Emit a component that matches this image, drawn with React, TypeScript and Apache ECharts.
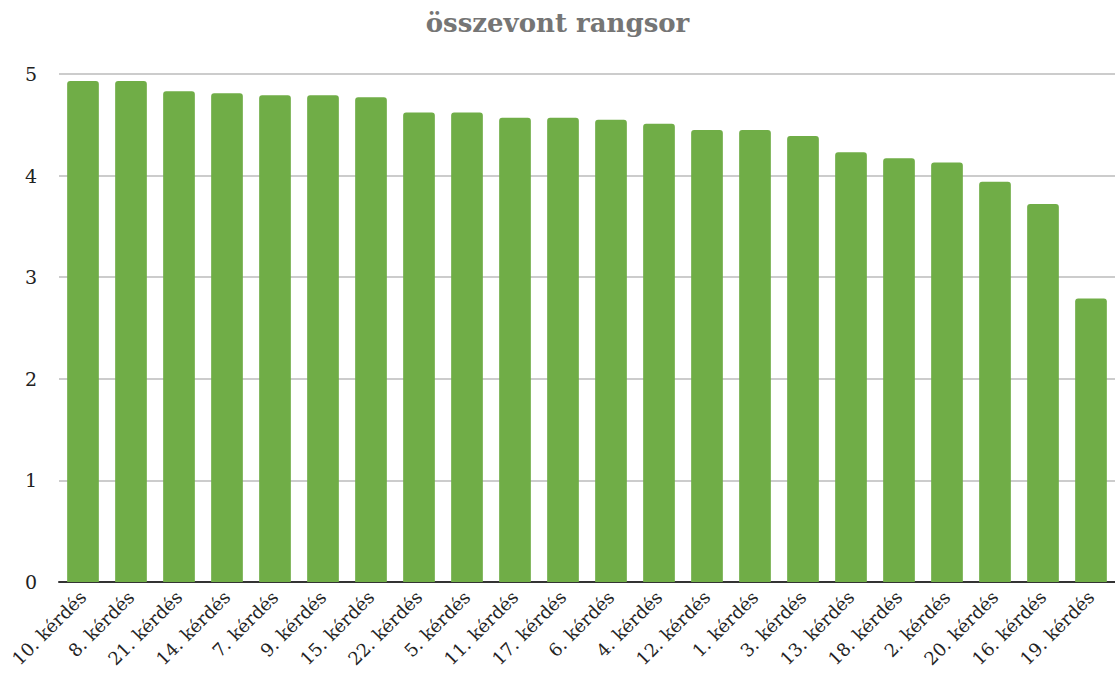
import React, { useEffect, useRef } from "react";
import * as echarts from "echarts";

const categories = [
  "10. kérdés", "8. kérdés", "21. kérdés", "14. kérdés", "7. kérdés", "9. kérdés",
  "15. kérdés", "22. kérdés", "5. kérdés", "11. kérdés", "17. kérdés", "6. kérdés",
  "4. kérdés", "12. kérdés", "1. kérdés", "3. kérdés", "13. kérdés", "18. kérdés",
  "2. kérdés", "20. kérdés", "16. kérdés", "19. kérdés",
];
const values = [
  4.93, 4.93, 4.83, 4.81, 4.79, 4.79, 4.77, 4.62, 4.62, 4.57, 4.57, 4.55,
  4.51, 4.45, 4.45, 4.39, 4.23, 4.17, 4.13, 3.94, 3.72, 2.79,
];
const titleText = "összevont rangsor";

export default function App() {
  const ref = useRef<HTMLDivElement>(null);
  useEffect(() => {
    if (!ref.current) return;
    const chart = echarts.init(ref.current, undefined, { renderer: "svg" });
    chart.setOption({
      animation: false,
      backgroundColor: "#ffffff",
      title: {
        text: titleText,
        left: "center",
        top: 5,
        textStyle: {
          fontFamily: "'DejaVu Serif', serif",
          fontWeight: "bold",
          fontSize: 26,
          color: "#757575",
        },
      },
      grid: { left: 59, right: 0, top: 74, bottom: 102, containLabel: false },
      xAxis: {
        type: "category",
        data: categories,
        axisTick: { show: false },
        axisLine: { lineStyle: { color: "#333333", width: 2 } },
        axisLabel: {
          rotate: 45,
          interval: 0,
          margin: 12,
          padding: [0, 0, 0, 0],
          fontFamily: "'DejaVu Serif', serif",
          fontSize: 18,
          color: "#222222",
        },
      },
      yAxis: {
        type: "value",
        min: 0,
        max: 5,
        interval: 1,
        axisLine: { show: false },
        axisTick: { show: false },
        splitLine: { lineStyle: { color: "#cccccc", width: 2 } },
        axisLabel: {
          margin: 22,
          fontFamily: "'DejaVu Serif', serif",
          fontSize: 19,
          color: "#222222",
        },
      },
      series: [
        {
          type: "bar",
          data: values,
          barWidth: "66%",
          itemStyle: { color: "#70ad47", borderRadius: [3, 3, 0, 0] },
        },
      ],
    });
    return () => chart.dispose();
  }, []);
  return (
    <div
      ref={ref}
      style={{ position: "fixed", left: 0, top: 0, width: 1115, height: 684 }}
    />
  );
}
